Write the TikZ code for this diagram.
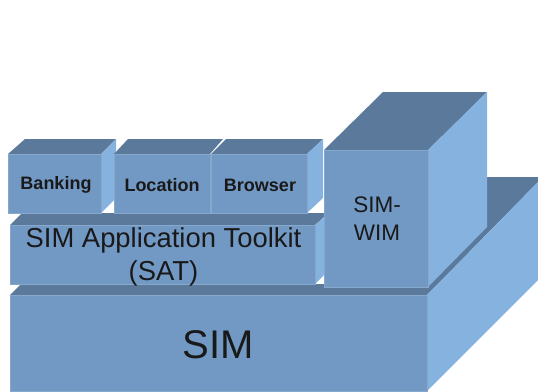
\documentclass[tikz,border=0pt]{standalone}
\usepackage{fontspec}
\setmainfont{Liberation Sans}
\usepackage{tikz}
\usetikzlibrary{positioning}

\definecolor{frontblue}{RGB}{114,153,196}
\definecolor{topblue}{RGB}{91,122,155}
\definecolor{sideblue}{RGB}{133,178,223}

\begin{document}
\begin{tikzpicture}[x=1pt,y=-1pt,line width=0.6pt,
    front/.style={rectangle,draw=frontblue!85!white,fill=frontblue,inner sep=0pt},
    caption/.style={inner sep=0pt,align=center,text=black!90},
    topface/.style={fill=topblue},
    sideface/.style={fill=sideblue},
    small/.style={caption,font=\fontsize{18}{20}\selectfont\bfseries},
    mid/.style={caption,font=\fontsize{27.4}{33}\selectfont},
    wimtext/.style={caption,font=\fontsize{22.5}{28}\selectfont},
    big/.style={caption,font=\fontsize{40}{44}\selectfont}]

  \useasboundingbox (0,0) rectangle (538,391);

  % base
  \fill[topface] (10,295) -- (21,284) -- (430,284) -- (487,177) -- (538,177) -- (538,182) -- (427,295) -- cycle;
  \fill[sideface] (427,295) -- (538,182) -- (538,280) -- (427,391) -- cycle;
  \node[front,minimum width=417pt,minimum height=96pt] (sim) at (218.5,343) {};
  \node[big,yshift=-1.5pt] (simtext) at (sim) {SIM};

  % wim
  \fill[topface] (324,150) -- (383,92) -- (487,92) -- (428,150) -- cycle;
  \fill[sideface] (428,150) -- (487,92) -- (487,227) -- (428,287) -- cycle;
  \node[front,minimum width=104pt,minimum height=137pt] (wim) at (376,218.5) {};
  \node[wimtext,xshift=1pt] (wimlabel) at (wim) {SIM-\\WIM};

  % toolkit
  \fill[topface] (10,225) -- (22,213) -- (324,213) -- (324,217) -- (315,225) -- cycle;
  \fill[sideface] (315,225) -- (324,217) -- (324,275) -- (315,284) -- cycle;
  \node[front,minimum width=305pt,minimum height=59pt] (sat) at (162.5,254.5) {};
  \node[mid,yshift=-2.5pt,xshift=1pt] (satlabel) at (sat) {SIM Application Toolkit\\(SAT)};

  % apps
  \fill[topface] (8,154) -- (25,139) -- (116,139) -- (101,154) -- cycle;
  \fill[sideface] (101,154) -- (116,139) -- (116,198) -- (101,213) -- cycle;
  \node[front,minimum width=93pt,minimum height=59pt] (banking) at (54.5,183.5) {};
  \node[small,yshift=-1.5pt,xshift=1.5pt] (bankinglabel) at (banking) {Banking};

  \fill[topface] (114,154) -- (128,139) -- (223,139) -- (210,154) -- cycle;
  \node[front,minimum width=96pt,minimum height=59pt] (location) at (162,183.5) {};
  \node[small,yshift=-1.5pt] (locationlabel) at (location) {Location};

  \fill[topface] (211,154) -- (226,139) -- (323,139) -- (307,154) -- cycle;
  \fill[sideface] (307,154) -- (323,139) -- (323,198) -- (307,213) -- cycle;
  \node[front,minimum width=96pt,minimum height=59pt] (browser) at (259,183.5) {};
  \node[small,yshift=-1.5pt,xshift=1pt] (browserlabel) at (browser) {Browser};
\end{tikzpicture}
\end{document}
